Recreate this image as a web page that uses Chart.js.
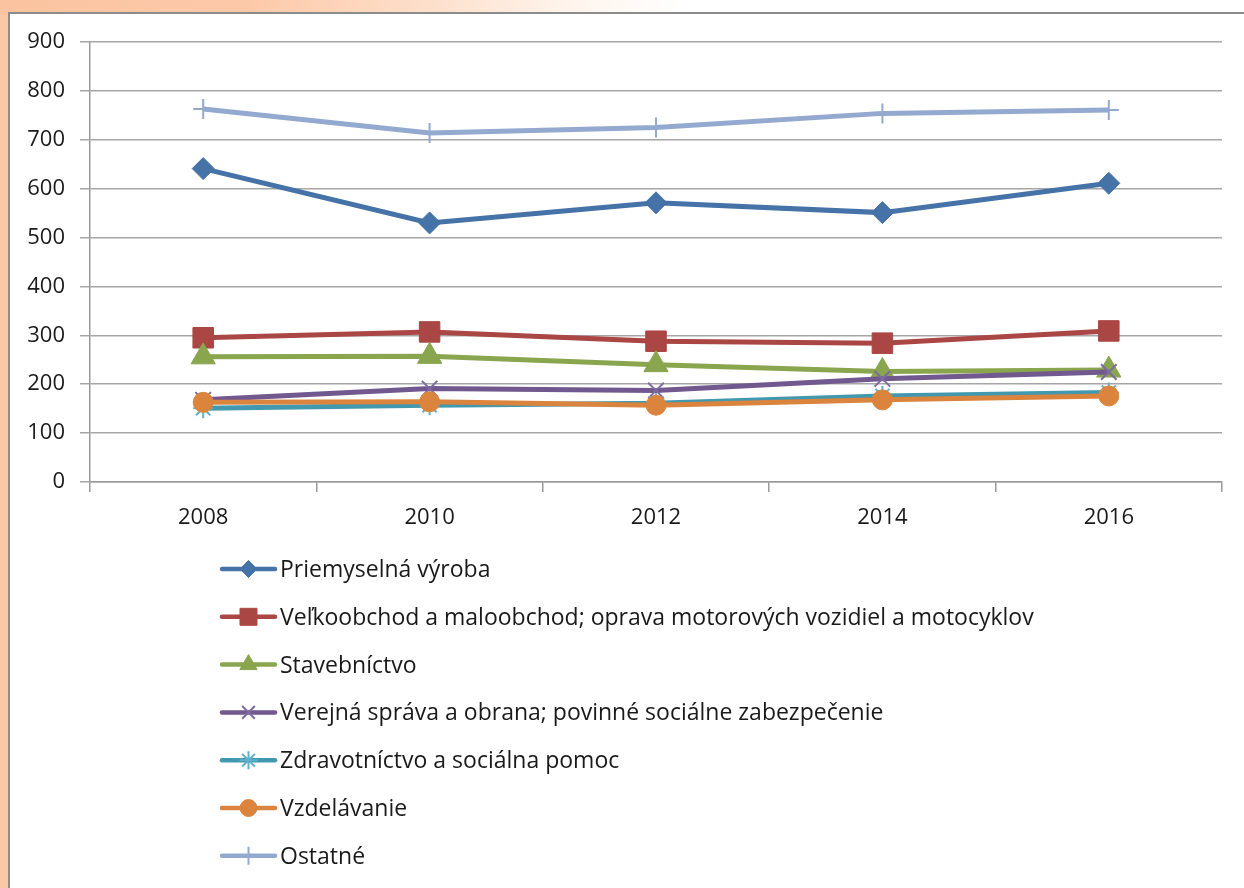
<!DOCTYPE html>
<html>
<head>
<meta charset="utf-8">
<script src="https://cdn.jsdelivr.net/npm/chart.js@4.4.1/dist/chart.umd.min.js"></script>
<style>
  html, body { margin: 0; padding: 0; }
  body {
    width: 1244px; height: 888px; overflow: hidden; position: relative;
    background: #fbc8a6;
  }
  #topband {
    position: absolute; left: 0; top: 0; width: 1244px; height: 14px;
    background: linear-gradient(to right, #fbc3a0 0%, #fcc9a8 20%, #fde0cc 35%, #fff3ea 45%, #ffffff 55%, #ffffff 100%);
  }
  #box {
    position: absolute; left: 8px; top: 12px; width: 1250px; height: 900px;
    background: #ffffff; border-left: 2px solid #8c8c8c; border-top: 2px solid #8c8c8c;
  }
  #wrap { position: absolute; left: 0; top: 0; width: 1244px; height: 888px; }
</style>
</head>
<body>
<div id="topband"></div>
<div id="box"></div>
<div id="wrap"><canvas id="c" width="1244" height="888"></canvas></div>
<script>
// ---- data ----
const years = ['2008', '2010', '2012', '2014', '2016'];
const seriesNames = [
  'Priemyselná výroba',
  'Veľkoobchod a maloobchod; oprava motorových vozidiel a motocyklov',
  'Stavebníctvo',
  'Verejná správa a obrana; povinné sociálne zabezpečenie',
  'Zdravotníctvo a sociálna pomoc',
  'Vzdelávanie',
  'Ostatné'
];
const priemyselna   = [641, 530, 571, 551, 611];
const velkoobchod   = [295, 307, 288, 284, 309];
const stavebnictvo  = [256, 257, 240, 226, 229];
const verejna       = [168, 191, 187, 211, 225];
const zdravotnictvo = [151, 157, 161, 176, 183];
const vzdelavanie   = [163, 164, 157, 168, 176];
const ostatne       = [763, 714, 725, 754, 761];
const yTicks = [0, 100, 200, 300, 400, 500, 600, 700, 800, 900];

const FONT = '"Open Sans"';
const FSIZE = 22;
const LEGEND_FSIZE = 23;

const styles = [
  { color: '#4572A7', mColor: '#4572A7', style: 'rectRot',  r: 11, lr: 8.5, bw: 1 },
  { color: '#AA4643', mColor: '#AA4643', style: 'rect',     r: 14.5, lr: 12, bw: 1 },
  { color: '#89A54E', mColor: '#89A54E', style: 'triangle', r: 14, lr: 10, bw: 1 },
  { color: '#71588F', mColor: '#7e6aa0', style: 'crossRot', r: 11, lr: 9, bw: 2 },
  { color: '#4198AF', mColor: '#5fb0c8', style: 'star',     r: 10, lr: 9, bw: 2 },
  { color: '#DB843D', mColor: '#DB843D', style: 'circle',   r: 10, lr: 8.5, bw: 1 },
  { color: '#93A9CF', mColor: '#93A9CF', style: 'cross',    r: 10, lr: 9, bw: 2 }
];
const values = [priemyselna, velkoobchod, stavebnictvo, verejna, zdravotnictvo, vzdelavanie, ostatne];

const datasets = values.map((v, i) => ({
  label: seriesNames[i],
  data: v,
  borderColor: styles[i].color,
  backgroundColor: styles[i].mColor,
  borderWidth: 5,
  tension: 0,
  pointStyle: styles[i].style,
  pointRadius: styles[i].r,
  pointBorderColor: styles[i].mColor,
  pointBackgroundColor: styles[i].mColor,
  pointBorderWidth: styles[i].bw,
  order: values.length - i,
  fill: false
}));

const legendPlugin = {
  id: 'vertLegend',
  afterDraw(chart) {
    const ctx = chart.ctx;
    const ca = chart.chartArea;
    const x0 = ca.left + 132;
    const x1 = x0 + 53;
    const xm = (x0 + x1) / 2;
    const tx = x1 + 5;
    const y0 = ca.bottom + 87;
    const dy = 47.8;
    ctx.save();
    datasets.forEach((d, i) => {
      const y = y0 + dy * i;
      ctx.beginPath();
      ctx.lineCap = 'round';
      ctx.strokeStyle = d.borderColor;
      ctx.lineWidth = 4.5;
      ctx.moveTo(x0, y);
      ctx.lineTo(x1, y);
      ctx.stroke();
      ctx.fillStyle = styles[i].mColor;
      ctx.strokeStyle = styles[i].mColor;
      ctx.lineWidth = styles[i].bw;
      ctx.lineCap = 'butt';
      Chart.helpers.drawPoint(ctx, { pointStyle: styles[i].style, radius: styles[i].lr, rotation: 0, borderWidth: styles[i].bw }, xm, y);
      ctx.fillStyle = '#1a1a1a';
      ctx.font = LEGEND_FSIZE + 'px ' + FONT;
      ctx.textBaseline = 'middle';
      ctx.textAlign = 'left';
      ctx.fillText(d.label, tx, y + 1.5);
    });
    ctx.restore();
  }
};

new Chart(document.getElementById('c'), {
  type: 'line',
  data: { labels: years, datasets: datasets },
  plugins: [legendPlugin],
  options: {
    responsive: false,
    animation: false,
    events: [],
    layout: { padding: { left: 0, right: 22, top: 42, bottom: 346 } },
    plugins: { legend: { display: false }, tooltip: { enabled: false } },
    scales: {
      x: {
        type: 'category',
        offset: true,
        afterFit(s) { s.height = 60; },
        grid: {
          offset: true, drawOnChartArea: false, drawTicks: true, tickLength: 10,
          color: '#9a9a9a', lineWidth: 1.5
        },
        border: { display: true, color: '#9a9a9a', width: 1.5 },
        ticks: { color: '#1a1a1a', font: { family: FONT, size: FSIZE }, padding: 13, maxRotation: 0 }
      },
      y: {
        min: 0, max: 900,
        afterFit(s) { s.width = 90; },
        afterBuildTicks(s) { s.ticks = yTicks.map(v => ({ value: v })); },
        grid: { color: '#a6a6a6', lineWidth: 1.5, drawTicks: true, tickLength: 10 },
        border: { display: true, color: '#9a9a9a', width: 1.5 },
        ticks: { color: '#1a1a1a', font: { family: FONT, size: FSIZE }, padding: 15 }
      }
    }
  }
});
</script>
</body>
</html>
